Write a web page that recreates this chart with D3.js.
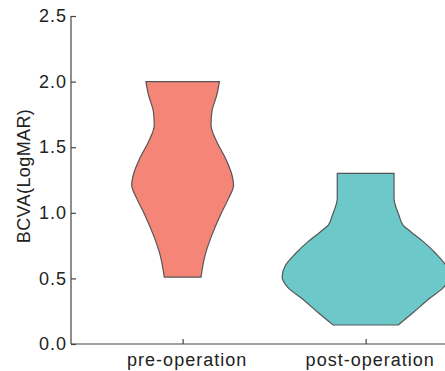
<!DOCTYPE html>
<html lang="en">
  <head>
    <meta charset="UTF-8" />
    <title>BCVA violin</title>
    <script src="https://d3js.org/d3.v7.min.js"></script>
    <style>
      body { margin: 0; background: #fff; }
      .axis path, .axis line { stroke: #444; stroke-width: 1.2; }
      .axis text { font-family: "Liberation Sans", Arial, sans-serif; font-size: 18px; fill: #222; letter-spacing: 1px; }
    </style>
  </head>
  <body>
    <div id="chart-container"></div>
    <script>
      // groups on the x axis
      const groups = ['pre-operation', 'post-operation'];
      const colors = ['#F58677', '#6DC9C9'];

      // violin outlines: BCVA value and relative density
      const preValues = [0.51, 0.68, 0.83, 0.98, 1.11, 1.21, 1.29, 1.42, 1.54, 1.67, 1.77, 1.9, 2.0];
      const preDensity = [0.22, 0.27, 0.35, 0.45, 0.55, 0.61, 0.59, 0.51, 0.41, 0.34, 0.35, 0.41, 0.44];
      const postValues = [0.145, 0.24, 0.35, 0.43, 0.51, 0.6, 0.69, 0.78, 0.856, 0.905, 0.98, 1.11, 1.3];
      const postDensity = [0.39, 0.57, 0.77, 0.93, 1.0, 0.96, 0.84, 0.69, 0.54, 0.45, 0.4, 0.34, 0.34];

      const yTicks = [0, 0.5, 1.0, 1.5, 2.0, 2.5];

      const svgWidth = 445;
      const svgHeight = 371;

      const svg = d3
        .select('#chart-container')
        .append('svg')
        .attr('width', svgWidth)
        .attr('height', svgHeight);

      const y = d3.scaleLinear().domain([0, 2.5]).range([344, 16]);
      // group index -> pixel
      const x = d3.scaleLinear().domain([-0.61, 1.45]).range([71, 448]);
      // density -> half width in px
      const w = d3.scaleLinear().domain([0, 1]).range([0, 83.5]);

      const violins = [
        { name: groups[0], values: preValues, density: preDensity },
        { name: groups[1], values: postValues, density: postDensity },
      ];

      violins.forEach(function (v, i) {
        const pts = v.values.map((val, k) => ({ v: val, d: v.density[k] }));
        const cx = x(i);
        const area = d3
          .area()
          .curve(d3.curveMonotoneY)
          .y((d) => y(d.v))
          .x0((d) => cx - w(d.d))
          .x1((d) => cx + w(d.d));
        svg
          .append('path')
          .datum(pts)
          .attr('d', area)
          .attr('fill', colors[i])
          .attr('stroke', '#555')
          .attr('stroke-width', 1.2);
      });

      // axes
      svg
        .append('g')
        .attr('class', 'axis')
        .attr('transform', 'translate(71,0)')
        .call(
          d3.axisLeft(y).tickValues(yTicks).tickFormat(d3.format('.1f')).tickSize(-5).tickPadding(4),
        )
        .call((g) => g.select('.domain').attr('d', 'M0,16V344'));

      svg
        .append('g')
        .attr('class', 'axis')
        .attr('transform', 'translate(0,344)')
        .call(
          d3.axisBottom(x).tickValues([0, 1]).tickFormat((d) => groups[d]).tickSize(-5).tickPadding(9),
        )
        .call((g) => g.select('.domain').attr('d', 'M71,0H448'))
        .selectAll('text')
        .attr('dx', 4);

      svg
        .append('text')
        .attr('transform', 'translate(30,176) rotate(-90)')
        .attr('text-anchor', 'middle')
        .style('font-family', '"Liberation Sans", Arial, sans-serif')
        .style('font-size', '18px')
        .style('letter-spacing', '0.4px')
        .style('fill', '#222')
        .text('BCVA(LogMAR)');
    </script>
  </body>
</html>
